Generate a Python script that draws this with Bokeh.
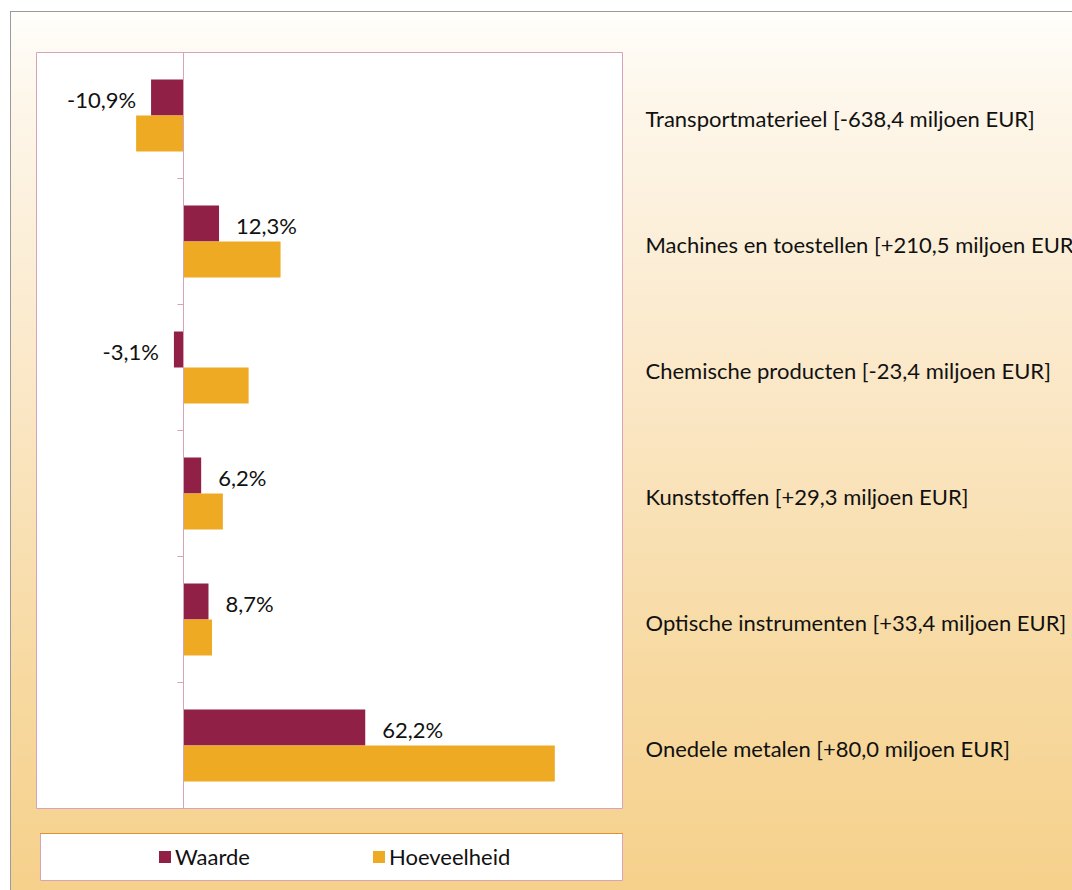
from bokeh.plotting import figure
from bokeh.models import (Range1d, LinearAxis, FixedTicker, ColumnDataSource,
                          Legend, LegendItem)
from bokeh.layouts import column, row
from bokeh.core.properties import value
from bokeh.embed import file_html
from bokeh.resources import INLINE

# ---------------- data ----------------
categories = [
    "Transportmaterieel [-638,4 miljoen EUR]",
    "Machines en toestellen [+210,5 miljoen EUR]",
    "Chemische producten [-23,4 miljoen EUR]",
    "Kunststoffen [+29,3 miljoen EUR]",
    "Optische instrumenten [+33,4 miljoen EUR]",
    "Onedele metalen [+80,0 miljoen EUR]",
]
waarde = [-10.9, 12.3, -3.1, 6.2, 8.7, 62.2]
hoeveelheid = [-16.0, 33.3, 22.4, 13.6, 9.9, 126.9]
series_names = ["Waarde", "Hoeveelheid"]

# ---------------- style ----------------
FONT = "Lato"
MAROON = "#902046"
ORANGE = "#EFAA24"
PINK = "#D8A2BA"
TXT = "#111111"
X_MIN, X_MAX = -50, 150
BAR_H = 0.285

n = len(categories)
centers = [n - 1 - i + 0.5 for i in range(n)]
y_w = [c + BAR_H / 2 for c in centers]
y_h = [c - BAR_H / 2 for c in centers]

src = ColumnDataSource(dict(
    cat=categories, center=centers, waarde=waarde, hoeveelheid=hoeveelheid,
    y_w=y_w, y_h=y_h,
    label=[("%.1f" % v).replace(".", ",") + "%" for v in waarde],
    align=["right" if v < 0 else "left" for v in waarde],
    xoff=[-15 if v < 0 else 17 for v in waarde],
    xstart=[0] * n,
))

yr = Range1d(0, n)

# ---------------- main plot area ----------------
p = figure(width=623, height=832, x_range=Range1d(X_MIN, X_MAX), y_range=yr,
           x_axis_type=None, y_axis_type=None, output_backend="svg", toolbar_location=None,
           min_border_left=36, min_border_right=1, min_border_top=52, min_border_bottom=24)
p.border_fill_color = None
p.background_fill_color = "white"
p.outline_line_color = PINK
p.outline_line_width = 1
p.grid.visible = False

r_w = p.hbar(y="y_w", left=0, right="waarde", height=BAR_H, source=src,
             fill_color=MAROON, line_color=None)
r_h = p.hbar(y="y_h", left=0, right="hoeveelheid", height=BAR_H, source=src,
             fill_color=ORANGE, line_color=None)

# zero axis with ticks between categories (no tick labels)
zaxis = LinearAxis(fixed_location=0, ticker=FixedTicker(ticks=list(range(n + 1))))
zaxis.axis_line_color = PINK
zaxis.major_tick_line_color = PINK
zaxis.major_tick_out = 6
zaxis.major_tick_in = 0
zaxis.minor_tick_line_color = None
zaxis.major_label_text_color = None
zaxis.major_label_overrides = {i: "" for i in range(n + 1)}
p.add_layout(zaxis, "left")

# data labels (Waarde)
p.text(x="waarde", y="y_w", text="label", source=src, text_align="align",
       text_baseline="middle", x_offset="xoff", y_offset=2,
       text_font=value(FONT), text_font_size="22px", text_color=TXT)

# ---------------- category labels (right side) ----------------
plab = figure(width=449, height=832, x_range=Range1d(0, 1), y_range=yr,
              x_axis_type=None, y_axis_type=None, output_backend="svg", toolbar_location=None,
              min_border_left=0, min_border_right=0, min_border_top=52, min_border_bottom=24)
plab.border_fill_color = None
plab.background_fill_color = None
plab.outline_line_color = None
plab.grid.visible = False
plab.text(x="xstart", y="center", text="cat", source=src, x_offset=22, y_offset=3,
          text_align="left", text_baseline="middle",
          text_font=value(FONT), text_font_size="22px", text_color=TXT)

# ---------------- legend box ----------------
pl = figure(width=1072, height=58, x_range=Range1d(0, 1), y_range=Range1d(-20, -19),
            x_axis_type=None, y_axis_type=None, output_backend="svg", toolbar_location=None,
            min_border_left=40, min_border_right=450, min_border_top=1, min_border_bottom=10)
pl.border_fill_color = None
pl.background_fill_color = "white"
pl.outline_line_color = PINK
pl.grid.visible = False
# same series drawn outside the visible range, only to feed the legend swatches
lw = pl.hbar(y="y_w", left=0, right="waarde", height=BAR_H, source=src,
             fill_color=MAROON, line_color=None)
lh = pl.hbar(y="y_h", left=0, right="hoeveelheid", height=BAR_H, source=src,
             fill_color=ORANGE, line_color=None)
legend = Legend(items=[LegendItem(label=series_names[0], renderers=[lw]),
                       LegendItem(label=series_names[1], renderers=[lh])],
                orientation="horizontal", location=(117, 10),
                border_line_color=None, background_fill_alpha=0,
                padding=0, margin=0, spacing=16, label_width=180,
                glyph_width=15, glyph_height=15, label_standoff=3,
                label_text_font=FONT, label_text_font_size="22px", label_text_color=TXT)
pl.add_layout(legend)

bg = ("linear-gradient(#9b9b9b,#9b9b9b) 10px 11px / 100% 1px no-repeat, "
      "linear-gradient(#9b9b9b,#9b9b9b) 10px 11px / 1px 100% no-repeat, "
      "linear-gradient(180deg, #FFFEFB 0%, #FDF6EA 10%, #FAE6C3 45%, #F7D9A0 75%, #F5D08A 100%) "
      "11px 12px / 100% 100% no-repeat, #FFFFFF")
layout = column(row(p, plab, spacing=0), pl, spacing=0, styles={"background": bg})

open("out.html", "w").write(file_html(layout, INLINE))
